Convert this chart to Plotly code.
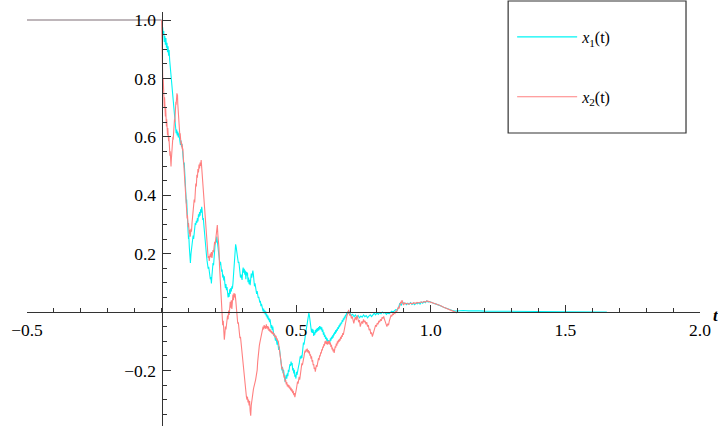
import plotly.graph_objects as go

# history segment (t <= 0), both components start from 1
hist_t = [-0.5, 0.0]
hist_x = [1.0, 1.0]

# x1(t) sample path as (t, x1) pairs
x1_samples = [
    (0.000, 1.000), (0.002, 0.965), (0.004, 0.975), (0.006, 0.950), (0.008, 0.962),
    (0.010, 0.925), (0.012, 0.945), (0.014, 0.915), (0.016, 0.938), (0.018, 0.905),
    (0.020, 0.922), (0.022, 0.890), (0.024, 0.910), (0.026, 0.878), (0.028, 0.897),
    (0.030, 0.862), (0.032, 0.840), (0.034, 0.825), (0.036, 0.800), (0.038, 0.780),
    (0.040, 0.765), (0.042, 0.728), (0.044, 0.705), (0.046, 0.672), (0.048, 0.655),
    (0.050, 0.640), (0.052, 0.628), (0.054, 0.612), (0.056, 0.625), (0.058, 0.605),
    (0.060, 0.618), (0.062, 0.598), (0.064, 0.612), (0.066, 0.592), (0.068, 0.580),
    (0.070, 0.572), (0.072, 0.588), (0.074, 0.566), (0.076, 0.575), (0.078, 0.548),
    (0.080, 0.530), (0.082, 0.505), (0.084, 0.512), (0.086, 0.470), (0.088, 0.440),
    (0.089, 0.452), (0.090, 0.400), (0.092, 0.372), (0.093, 0.385), (0.095, 0.320),
    (0.096, 0.335), (0.098, 0.282), (0.100, 0.250), (0.101, 0.262), (0.103, 0.222),
    (0.105, 0.195), (0.106, 0.205), (0.107, 0.168), (0.109, 0.198), (0.111, 0.212),
    (0.113, 0.228), (0.115, 0.240), (0.117, 0.262), (0.119, 0.250), (0.121, 0.275),
    (0.123, 0.292), (0.125, 0.305), (0.127, 0.298), (0.129, 0.312), (0.131, 0.305),
    (0.133, 0.322), (0.135, 0.310), (0.137, 0.335), (0.139, 0.325), (0.141, 0.342),
    (0.143, 0.330), (0.145, 0.352), (0.147, 0.340), (0.149, 0.360), (0.151, 0.345),
    (0.153, 0.315), (0.155, 0.322), (0.157, 0.298), (0.159, 0.270), (0.161, 0.245),
    (0.163, 0.222), (0.165, 0.200), (0.167, 0.192), (0.169, 0.175), (0.171, 0.165),
    (0.173, 0.148), (0.175, 0.155), (0.177, 0.130), (0.179, 0.138), (0.181, 0.112),
    (0.183, 0.120), (0.185, 0.098), (0.187, 0.125), (0.189, 0.150), (0.191, 0.168),
    (0.193, 0.160), (0.195, 0.205), (0.197, 0.220), (0.199, 0.235), (0.201, 0.245),
    (0.203, 0.238), (0.205, 0.258), (0.207, 0.240), (0.209, 0.232), (0.211, 0.215),
    (0.213, 0.195), (0.215, 0.175), (0.217, 0.160), (0.219, 0.172), (0.221, 0.150),
    (0.223, 0.138), (0.225, 0.145), (0.227, 0.118), (0.229, 0.128), (0.231, 0.108),
    (0.233, 0.122), (0.235, 0.098), (0.237, 0.082), (0.239, 0.096), (0.241, 0.075),
    (0.243, 0.085), (0.245, 0.060), (0.247, 0.050), (0.249, 0.065), (0.251, 0.052),
    (0.253, 0.078), (0.255, 0.062), (0.257, 0.082), (0.259, 0.070), (0.261, 0.088),
    (0.263, 0.080), (0.265, 0.098), (0.267, 0.125), (0.269, 0.150), (0.271, 0.190),
    (0.273, 0.205), (0.275, 0.232), (0.277, 0.222), (0.279, 0.205), (0.281, 0.182),
    (0.283, 0.175), (0.285, 0.168), (0.287, 0.172), (0.289, 0.145), (0.291, 0.132),
    (0.293, 0.118), (0.295, 0.128), (0.297, 0.115), (0.299, 0.110), (0.301, 0.140),
    (0.303, 0.152), (0.305, 0.135), (0.307, 0.148), (0.309, 0.128), (0.311, 0.142),
    (0.313, 0.112), (0.315, 0.138), (0.317, 0.125), (0.319, 0.135), (0.321, 0.102),
    (0.323, 0.118), (0.325, 0.095), (0.327, 0.110), (0.329, 0.092), (0.331, 0.108),
    (0.333, 0.132), (0.335, 0.118), (0.337, 0.125), (0.339, 0.142), (0.341, 0.128),
    (0.343, 0.110), (0.345, 0.088), (0.347, 0.098), (0.349, 0.078), (0.351, 0.085),
    (0.353, 0.062), (0.355, 0.072), (0.357, 0.058), (0.359, 0.048), (0.361, 0.052),
    (0.363, 0.040), (0.365, 0.032), (0.367, 0.038), (0.369, 0.020), (0.371, 0.028),
    (0.373, 0.012), (0.375, 0.018), (0.377, 0.002), (0.379, 0.012), (0.381, -0.004),
    (0.383, 0.006), (0.385, -0.008), (0.387, 0.002), (0.389, -0.015), (0.391, -0.008),
    (0.393, -0.022), (0.395, -0.012), (0.397, -0.028), (0.399, -0.020), (0.401, -0.035),
    (0.403, -0.025), (0.405, -0.042), (0.407, -0.055), (0.409, -0.045), (0.411, -0.062),
    (0.413, -0.050), (0.415, -0.070), (0.417, -0.082), (0.419, -0.075), (0.421, -0.092),
    (0.423, -0.098), (0.425, -0.088), (0.427, -0.105), (0.429, -0.112), (0.431, -0.100),
    (0.433, -0.122), (0.435, -0.130), (0.437, -0.118), (0.439, -0.138), (0.441, -0.150),
    (0.443, -0.168), (0.445, -0.185), (0.447, -0.200), (0.449, -0.188), (0.451, -0.210),
    (0.453, -0.198), (0.455, -0.222), (0.457, -0.235), (0.459, -0.240), (0.461, -0.225),
    (0.463, -0.215), (0.465, -0.228), (0.467, -0.210), (0.469, -0.220), (0.471, -0.198),
    (0.473, -0.205), (0.475, -0.188), (0.477, -0.178), (0.479, -0.185), (0.481, -0.170),
    (0.483, -0.182), (0.485, -0.175), (0.487, -0.200), (0.489, -0.192), (0.491, -0.210),
    (0.493, -0.198), (0.495, -0.222), (0.497, -0.215), (0.499, -0.228), (0.501, -0.205),
    (0.503, -0.215), (0.505, -0.198), (0.507, -0.205), (0.509, -0.185), (0.511, -0.178),
    (0.513, -0.168), (0.515, -0.152), (0.517, -0.160), (0.519, -0.148), (0.521, -0.158),
    (0.523, -0.135), (0.525, -0.120), (0.527, -0.105), (0.529, -0.112), (0.531, -0.092),
    (0.533, -0.098), (0.535, -0.075), (0.537, -0.062), (0.539, -0.048), (0.541, -0.040),
    (0.543, -0.025), (0.545, -0.010), (0.547, -0.004), (0.549, -0.012), (0.551, -0.030),
    (0.553, -0.052), (0.555, -0.062), (0.557, -0.070), (0.559, -0.058), (0.561, -0.072),
    (0.563, -0.060), (0.565, -0.082), (0.567, -0.070), (0.569, -0.078), (0.571, -0.062),
    (0.573, -0.072), (0.575, -0.058), (0.577, -0.068), (0.579, -0.055), (0.581, -0.065),
    (0.583, -0.052), (0.585, -0.062), (0.587, -0.048), (0.589, -0.058), (0.591, -0.050),
    (0.593, -0.062), (0.595, -0.052), (0.597, -0.068), (0.599, -0.060), (0.601, -0.078),
    (0.603, -0.070), (0.605, -0.085), (0.607, -0.078), (0.609, -0.092), (0.611, -0.085),
    (0.613, -0.098), (0.615, -0.090), (0.617, -0.102), (0.619, -0.096), (0.621, -0.108),
    (0.623, -0.098), (0.625, -0.105), (0.627, -0.090), (0.629, -0.098), (0.631, -0.085),
    (0.633, -0.092), (0.635, -0.080), (0.637, -0.088), (0.639, -0.074), (0.641, -0.080),
    (0.643, -0.068), (0.645, -0.075), (0.647, -0.062), (0.649, -0.070), (0.651, -0.058),
    (0.653, -0.064), (0.655, -0.052), (0.657, -0.058), (0.659, -0.046), (0.661, -0.052),
    (0.663, -0.040), (0.665, -0.046), (0.667, -0.035), (0.669, -0.040), (0.671, -0.028),
    (0.673, -0.034), (0.675, -0.022), (0.677, -0.028), (0.679, -0.016), (0.681, -0.022),
    (0.683, -0.010), (0.685, -0.015), (0.687, -0.004), (0.689, -0.010), (0.691, 0.001),
    (0.693, -0.006), (0.696, 0.002), (0.700, -0.006), (0.705, -0.012), (0.710, -0.008),
    (0.715, -0.016), (0.720, -0.010), (0.725, -0.018), (0.730, -0.012), (0.735, -0.020),
    (0.740, -0.014), (0.745, -0.018), (0.750, -0.010), (0.755, -0.016), (0.760, -0.012),
    (0.765, -0.020), (0.770, -0.014), (0.775, -0.010), (0.780, -0.016), (0.785, -0.008),
    (0.790, -0.004), (0.795, -0.010), (0.800, -0.003), (0.805, -0.008), (0.810, -0.002),
    (0.815, -0.006), (0.820, 0.000), (0.825, -0.004), (0.830, -0.002), (0.835, -0.008),
    (0.840, -0.003), (0.845, -0.006), (0.850, -0.002), (0.855, 0.003), (0.860, 0.000),
    (0.865, 0.005), (0.870, 0.008), (0.875, 0.006), (0.880, 0.015), (0.885, 0.030),
    (0.890, 0.022), (0.895, 0.035), (0.900, 0.028), (0.905, 0.030), (0.910, 0.025),
    (0.915, 0.030), (0.920, 0.027), (0.925, 0.032), (0.930, 0.026), (0.935, 0.030),
    (0.940, 0.025), (0.945, 0.030), (0.950, 0.028), (0.955, 0.032), (0.960, 0.027),
    (0.965, 0.034), (0.970, 0.030), (0.975, 0.036), (0.980, 0.032), (0.985, 0.038),
    (0.990, 0.034), (0.995, 0.036), (1.000, 0.033), (1.010, 0.030), (1.020, 0.027),
    (1.030, 0.024), (1.040, 0.020), (1.050, 0.015), (1.060, 0.011), (1.070, 0.008),
    (1.080, 0.005), (1.090, 0.003), (1.100, 0.004), (1.120, 0.005), (1.140, 0.004),
    (1.160, 0.005), (1.180, 0.004), (1.200, 0.003), (1.250, 0.003), (1.300, 0.002),
    (1.400, 0.001), (1.500, 0.001), (1.654, 0.000),
]

# x2(t) sample path as (t, x2) pairs
x2_samples = [
    (0.000, 1.000), (0.001, 0.930), (0.002, 0.860), (0.003, 0.790), (0.004, 0.820),
    (0.005, 0.765), (0.006, 0.800), (0.007, 0.740), (0.008, 0.770), (0.009, 0.715),
    (0.010, 0.700), (0.011, 0.735), (0.012, 0.690), (0.013, 0.720), (0.014, 0.670),
    (0.015, 0.700), (0.016, 0.650), (0.017, 0.675), (0.018, 0.635), (0.019, 0.660),
    (0.020, 0.620), (0.021, 0.645), (0.022, 0.605), (0.023, 0.630), (0.024, 0.600),
    (0.025, 0.615), (0.026, 0.585), (0.027, 0.600), (0.028, 0.565), (0.029, 0.590),
    (0.030, 0.555), (0.031, 0.535), (0.032, 0.550), (0.033, 0.515), (0.034, 0.530),
    (0.035, 0.498), (0.036, 0.520), (0.037, 0.540), (0.038, 0.530), (0.039, 0.560),
    (0.040, 0.550), (0.041, 0.585), (0.042, 0.600), (0.043, 0.590), (0.044, 0.620),
    (0.045, 0.610), (0.046, 0.640), (0.047, 0.630), (0.048, 0.660), (0.049, 0.650),
    (0.050, 0.680), (0.051, 0.700), (0.052, 0.690), (0.053, 0.720), (0.054, 0.710),
    (0.055, 0.735), (0.056, 0.725), (0.057, 0.749), (0.058, 0.738), (0.059, 0.745),
    (0.060, 0.715), (0.061, 0.700), (0.062, 0.675), (0.063, 0.665), (0.064, 0.640),
    (0.065, 0.625), (0.066, 0.635), (0.067, 0.610), (0.068, 0.600), (0.069, 0.612),
    (0.070, 0.590), (0.071, 0.598), (0.072, 0.575), (0.073, 0.585), (0.074, 0.568),
    (0.075, 0.578), (0.076, 0.560), (0.077, 0.570), (0.078, 0.552), (0.079, 0.560),
    (0.080, 0.540), (0.081, 0.525), (0.082, 0.520), (0.083, 0.495), (0.084, 0.480),
    (0.085, 0.470), (0.086, 0.445), (0.087, 0.440), (0.088, 0.410), (0.089, 0.400),
    (0.090, 0.375), (0.091, 0.380), (0.092, 0.350), (0.093, 0.362), (0.094, 0.335),
    (0.095, 0.320), (0.096, 0.332), (0.097, 0.305), (0.098, 0.318), (0.099, 0.290),
    (0.100, 0.305), (0.101, 0.280), (0.102, 0.295), (0.103, 0.268), (0.104, 0.282),
    (0.105, 0.258), (0.106, 0.270), (0.107, 0.262), (0.109, 0.285), (0.111, 0.275),
    (0.113, 0.305), (0.115, 0.330), (0.117, 0.322), (0.119, 0.360), (0.121, 0.385),
    (0.123, 0.375), (0.125, 0.420), (0.127, 0.440), (0.129, 0.430), (0.131, 0.470),
    (0.133, 0.460), (0.135, 0.490), (0.137, 0.478), (0.139, 0.505), (0.141, 0.492),
    (0.143, 0.512), (0.145, 0.500), (0.147, 0.520), (0.149, 0.495), (0.151, 0.455),
    (0.153, 0.420), (0.155, 0.400), (0.157, 0.370), (0.159, 0.345), (0.161, 0.320),
    (0.163, 0.292), (0.165, 0.262), (0.167, 0.240), (0.169, 0.215), (0.171, 0.205),
    (0.173, 0.185), (0.175, 0.192), (0.177, 0.175), (0.179, 0.190), (0.181, 0.200),
    (0.183, 0.188), (0.185, 0.205), (0.187, 0.185), (0.189, 0.198), (0.191, 0.212),
    (0.193, 0.205), (0.195, 0.225), (0.197, 0.240), (0.199, 0.232), (0.201, 0.255),
    (0.203, 0.270), (0.205, 0.285), (0.207, 0.298), (0.209, 0.265), (0.211, 0.245),
    (0.213, 0.220), (0.215, 0.160), (0.217, 0.120), (0.219, 0.085), (0.221, 0.040),
    (0.223, 0.005), (0.225, -0.020), (0.227, -0.045), (0.229, -0.030), (0.231, -0.065),
    (0.233, -0.095), (0.235, -0.075), (0.237, -0.050), (0.239, -0.060), (0.241, -0.030),
    (0.243, -0.040), (0.245, -0.012), (0.247, -0.025), (0.249, 0.005), (0.251, -0.010),
    (0.253, 0.020), (0.255, 0.035), (0.257, 0.015), (0.259, 0.040), (0.261, 0.010),
    (0.263, 0.045), (0.265, 0.060), (0.267, 0.040), (0.269, 0.065), (0.271, 0.050),
    (0.273, 0.062), (0.275, 0.045), (0.277, 0.020), (0.279, 0.000), (0.281, -0.020),
    (0.283, -0.040), (0.285, -0.035), (0.287, -0.055), (0.289, -0.075), (0.291, -0.090),
    (0.293, -0.085), (0.295, -0.105), (0.297, -0.115), (0.299, -0.120), (0.301, -0.140),
    (0.303, -0.165), (0.305, -0.180), (0.307, -0.205), (0.309, -0.230), (0.311, -0.256),
    (0.313, -0.270), (0.315, -0.290), (0.317, -0.300), (0.319, -0.290), (0.321, -0.310),
    (0.323, -0.300), (0.325, -0.320), (0.327, -0.305), (0.329, -0.340), (0.331, -0.355),
    (0.333, -0.320), (0.335, -0.300), (0.337, -0.290), (0.339, -0.275), (0.341, -0.265),
    (0.343, -0.256), (0.345, -0.250), (0.347, -0.240), (0.349, -0.233), (0.351, -0.222),
    (0.353, -0.210), (0.355, -0.199), (0.357, -0.170), (0.359, -0.145), (0.361, -0.130),
    (0.363, -0.115), (0.365, -0.105), (0.367, -0.096), (0.369, -0.080), (0.371, -0.068),
    (0.373, -0.062), (0.375, -0.058), (0.377, -0.050), (0.379, -0.060), (0.381, -0.045),
    (0.383, -0.055), (0.385, -0.048), (0.387, -0.058), (0.389, -0.042), (0.391, -0.055),
    (0.393, -0.048), (0.395, -0.060), (0.397, -0.050), (0.399, -0.065), (0.401, -0.058),
    (0.403, -0.068), (0.405, -0.060), (0.407, -0.072), (0.409, -0.065), (0.411, -0.075),
    (0.413, -0.068), (0.415, -0.078), (0.417, -0.072), (0.419, -0.084), (0.421, -0.078),
    (0.423, -0.088), (0.425, -0.082), (0.427, -0.095), (0.429, -0.090), (0.431, -0.100),
    (0.433, -0.098), (0.435, -0.110), (0.437, -0.125), (0.439, -0.140), (0.441, -0.155),
    (0.443, -0.168), (0.445, -0.180), (0.447, -0.195), (0.449, -0.190), (0.451, -0.210),
    (0.453, -0.205), (0.455, -0.225), (0.457, -0.218), (0.459, -0.238), (0.461, -0.232),
    (0.463, -0.248), (0.465, -0.240), (0.467, -0.255), (0.469, -0.248), (0.471, -0.258),
    (0.473, -0.250), (0.475, -0.262), (0.477, -0.255), (0.479, -0.268), (0.481, -0.260),
    (0.483, -0.272), (0.485, -0.265), (0.487, -0.278), (0.489, -0.270), (0.491, -0.285),
    (0.493, -0.278), (0.495, -0.292), (0.497, -0.285), (0.499, -0.275), (0.501, -0.262),
    (0.503, -0.250), (0.505, -0.238), (0.507, -0.245), (0.509, -0.228), (0.511, -0.222),
    (0.513, -0.232), (0.515, -0.215), (0.517, -0.200), (0.519, -0.188), (0.521, -0.176),
    (0.523, -0.182), (0.525, -0.165), (0.527, -0.170), (0.529, -0.152), (0.531, -0.140),
    (0.533, -0.132), (0.535, -0.138), (0.537, -0.128), (0.539, -0.135), (0.541, -0.125),
    (0.543, -0.138), (0.545, -0.130), (0.547, -0.142), (0.549, -0.135), (0.551, -0.150),
    (0.553, -0.145), (0.555, -0.160), (0.557, -0.152), (0.559, -0.170), (0.561, -0.165),
    (0.563, -0.182), (0.565, -0.178), (0.567, -0.195), (0.569, -0.190), (0.571, -0.204),
    (0.573, -0.195), (0.575, -0.182), (0.577, -0.188), (0.579, -0.170), (0.581, -0.175),
    (0.583, -0.158), (0.585, -0.165), (0.587, -0.148), (0.589, -0.152), (0.591, -0.138),
    (0.593, -0.142), (0.595, -0.128), (0.597, -0.132), (0.599, -0.118), (0.601, -0.122),
    (0.603, -0.110), (0.605, -0.115), (0.607, -0.100), (0.609, -0.108), (0.611, -0.098),
    (0.613, -0.110), (0.615, -0.102), (0.617, -0.112), (0.619, -0.100), (0.621, -0.108),
    (0.623, -0.098), (0.625, -0.112), (0.627, -0.105), (0.629, -0.120), (0.631, -0.112),
    (0.633, -0.128), (0.635, -0.122), (0.637, -0.135), (0.639, -0.128), (0.641, -0.140),
    (0.643, -0.125), (0.645, -0.118), (0.647, -0.122), (0.649, -0.108), (0.651, -0.115),
    (0.653, -0.100), (0.655, -0.108), (0.657, -0.095), (0.659, -0.102), (0.661, -0.092),
    (0.663, -0.098), (0.665, -0.085), (0.667, -0.092), (0.669, -0.080), (0.671, -0.085),
    (0.673, -0.072), (0.675, -0.078), (0.677, -0.070), (0.679, -0.058), (0.681, -0.045),
    (0.683, -0.038), (0.685, -0.030), (0.687, -0.018), (0.689, -0.012), (0.691, -0.005),
    (0.693, 0.003), (0.695, 0.007), (0.697, -0.004), (0.699, -0.012), (0.702, -0.008),
    (0.705, -0.022), (0.708, -0.015), (0.711, -0.032), (0.714, -0.039), (0.717, -0.025),
    (0.720, -0.018), (0.723, -0.028), (0.726, -0.012), (0.729, -0.022), (0.732, -0.035),
    (0.735, -0.028), (0.738, -0.050), (0.741, -0.040), (0.744, -0.032), (0.747, -0.040),
    (0.750, -0.025), (0.753, -0.035), (0.756, -0.030), (0.759, -0.042), (0.762, -0.035),
    (0.765, -0.050), (0.768, -0.045), (0.771, -0.062), (0.774, -0.058), (0.777, -0.075),
    (0.780, -0.070), (0.783, -0.084), (0.786, -0.072), (0.789, -0.062), (0.792, -0.055),
    (0.795, -0.045), (0.798, -0.050), (0.801, -0.038), (0.804, -0.042), (0.807, -0.030),
    (0.810, -0.035), (0.813, -0.025), (0.816, -0.030), (0.819, -0.018), (0.822, -0.022),
    (0.825, -0.015), (0.828, -0.025), (0.831, -0.032), (0.834, -0.042), (0.837, -0.050),
    (0.840, -0.040), (0.843, -0.045), (0.846, -0.030), (0.849, -0.018), (0.852, -0.012),
    (0.855, -0.015), (0.858, -0.006), (0.861, -0.010), (0.864, -0.002), (0.867, -0.005),
    (0.870, 0.002), (0.873, 0.000), (0.876, 0.008), (0.879, 0.015), (0.882, 0.012),
    (0.885, 0.028), (0.888, 0.035), (0.891, 0.030), (0.893, 0.041), (0.896, 0.030),
    (0.899, 0.024), (0.902, 0.032), (0.905, 0.028), (0.912, 0.030), (0.918, 0.026),
    (0.924, 0.030), (0.930, 0.028), (0.937, 0.032), (0.943, 0.029), (0.949, 0.033),
    (0.955, 0.031), (0.962, 0.034), (0.968, 0.033), (0.974, 0.036), (0.980, 0.034),
    (0.986, 0.038), (0.992, 0.036), (0.999, 0.034), (1.005, 0.032), (1.011, 0.030),
    (1.023, 0.027), (1.035, 0.022), (1.048, 0.016), (1.060, 0.011), (1.073, 0.007),
    (1.085, 0.003), (1.098, -0.003),
]

t1 = [p[0] for p in x1_samples]
x1 = [p[1] for p in x1_samples]
t2 = [p[0] for p in x2_samples]
x2 = [p[1] for p in x2_samples]

# labelled axis ticks (the origin carries no label)
x_ticks = [-0.5, 0.5, 1.0, 1.5, 2.0]
x_tick_text = ["\u22120.5", "0.5", "1.0", "1.5", "2.0"]
y_ticks = [-0.2, 0.2, 0.4, 0.6, 0.8, 1.0]
y_tick_text = ["\u22120.2", "0.2", "0.4", "0.6", "0.8", "1.0"]

X_RANGE = [-0.5, 2.0]
Y_RANGE = [-0.3904, 1.0274]

AXIS_COLOR = "#333333"
CYAN = "#00f5f5"
SALMON = "#ff8080"
SERIF = "Liberation Serif"
TICK_FONT = dict(family=SERIF, size=17.5, color="#000000")

fig = go.Figure()
fig.add_trace(go.Scatter(x=hist_t, y=hist_x, mode="lines", showlegend=False,
                         line=dict(color="rgb(168,158,163)", width=1.6), hoverinfo="skip"))
fig.add_trace(go.Scatter(x=t1, y=x1, mode="lines", name="<i>x</i><sub>1</sub>(t)",
                         legendgroup="a", line=dict(color=CYAN, width=1.1)))
fig.add_trace(go.Scatter(x=t2, y=x2, mode="lines", name="<i>x</i><sub>2</sub>(t)",
                         legendgroup="b", line=dict(color=SALMON, width=1.1)))

# axes cross at the origin
x_pos = (0 - Y_RANGE[0]) / (Y_RANGE[1] - Y_RANGE[0])
y_pos = (0 - X_RANGE[0]) / (X_RANGE[1] - X_RANGE[0])

fig.update_xaxes(range=X_RANGE, anchor="free", position=x_pos,
                 showline=True, linecolor=AXIS_COLOR, linewidth=1.2,
                 showgrid=False, zeroline=False,
                 tickmode="array", tickvals=x_ticks, ticktext=x_tick_text,
                 ticks="inside", ticklen=7, tickwidth=1.2, tickcolor=AXIS_COLOR,
                 ticklabelstandoff=2,
                 minor=dict(tickmode="linear", tick0=0, dtick=0.1, ticks="inside",
                            ticklen=4, tickwidth=1, tickcolor=AXIS_COLOR, showgrid=False),
                 tickfont=TICK_FONT)
fig.update_yaxes(range=Y_RANGE, anchor="free", position=y_pos,
                 showline=True, linecolor=AXIS_COLOR, linewidth=1.2,
                 showgrid=False, zeroline=False,
                 tickmode="array", tickvals=y_ticks, ticktext=y_tick_text,
                 ticks="inside", ticklen=8, tickwidth=1.2, tickcolor=AXIS_COLOR,
                 ticklabelstandoff=2,
                 minor=dict(tickmode="linear", tick0=0, dtick=0.05, ticks="inside",
                            ticklen=4, tickwidth=1, tickcolor=AXIS_COLOR, showgrid=False),
                 tickfont=TICK_FONT)

W, H = 718, 426
ML, MR, MT, MB = 26.5, 18, 12, 0
pw, ph = W - ML - MR, H - MT - MB


def px_x(p):
    return (p - ML) / pw


def px_y(p):
    return (H - MB - p) / ph


fig.update_layout(
    width=W, height=H,
    margin=dict(l=ML, r=MR, t=MT, b=MB, pad=0),
    paper_bgcolor="white", plot_bgcolor="white",
    font=dict(family=SERIF, size=16, color="#000000"),
    showlegend=True,
    legend=dict(x=px_x(512), y=px_y(20), xanchor="left", yanchor="top",
                bgcolor="rgba(0,0,0,0)", borderwidth=0,
                itemwidth=60, tracegroupgap=36,
                font=dict(family=SERIF, size=16, color="#000000")),
    shapes=[dict(type="rect", xref="paper", yref="paper",
                 x0=px_x(508), x1=px_x(686), y0=px_y(133), y1=px_y(1),
                 line=dict(color="#333333", width=1.2), fillcolor="rgba(0,0,0,0)",
                 layer="above")],
    annotations=[dict(text="<b><i>t</i></b>", xref="x", yref="y", x=2.0, y=0,
                      xanchor="left", yanchor="middle", showarrow=False,
                      xshift=11, yshift=-3,
                      font=dict(family=SERIF, size=17, color="#000000"))],
    hovermode=False,
)

fig.write_html("out.html")
